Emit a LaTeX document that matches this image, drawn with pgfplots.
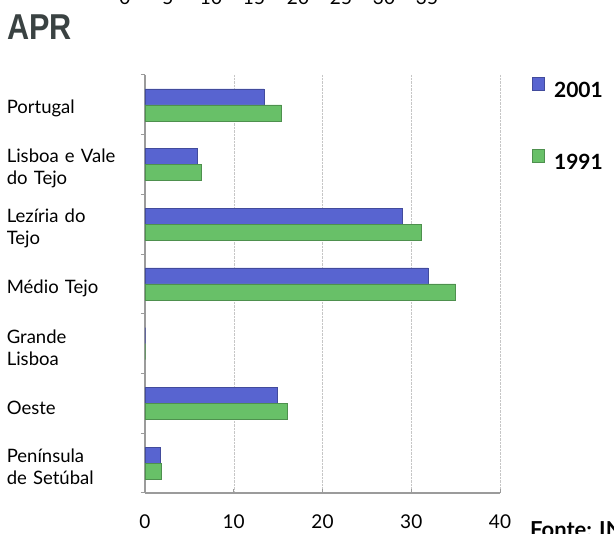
\documentclass[border=0pt]{standalone}
\usepackage{pgfplots}
\pgfplotsset{compat=1.18}
\usepackage{fontspec}
\setmainfont{Lato}
\newfontfamily\titlefont{Liberation Sans}
\definecolor{barblue}{RGB}{88,100,208}
\definecolor{bargreen}{RGB}{104,192,104}
\definecolor{axgray}{RGB}{155,155,155}
\definecolor{titlegray}{RGB}{58,66,66}

\begin{document}
\begin{tikzpicture}[x=1pt,y=1pt]
\useasboundingbox (0,0) rectangle (614,534);
\begin{axis}[
    at={(145pt,41pt)}, anchor=south west,
    scale only axis, width=355pt, height=418pt,
    xmin=0, xmax=40, ymin=-0.5, ymax=6.5, y dir=reverse,
    xbar, bar width=16pt,
    axis x line*=bottom, axis y line*=left,
    axis line style={axgray, line width=1.8pt, -},
    xtick={0,10,20,30,40},
    xmajorgrids, grid style={densely dotted, gray!45},
    major x tick style={axgray, line width=1pt},
    major tick length=4pt,
    ytick={0,...,6},
    yticklabels={Portugal, {Lisboa e Vale\\do Tejo}, {Lezíria do\\Tejo}, Médio Tejo,
                 {Grande\\Lisboa}, Oeste, {Península\\de Setúbal}},
    major y tick style={draw=none},
    minor ytick={-0.5,0.5,...,6.5},
    minor y tick style={axgray, line width=1pt},
    minor tick length=4pt,
    /pgf/number format/assume math mode=true,
    yticklabel style={anchor=east, text width=125pt, align=left, inner sep=0pt,
                      xshift=-9pt, yshift=-4pt, font=\fontsize{18.5}{22}\selectfont},
    xticklabel style={font=\fontsize{19}{19}\selectfont, yshift=-18pt},
    legend style={at={(1.08,1.0)}, anchor=north west, draw=none, fill=none,
                  font=\fontsize{21}{21}\selectfont\bfseries, row sep=48pt,
                  legend cell align=left},
    legend image code/.code={\fill[#1] (0pt,0pt) rectangle (12pt,13pt);},
]
\addplot[fill=barblue, draw=barblue!75!black, line width=0.5pt, bar shift=8pt]
coordinates {(13.4,0) (5.9,1) (29.0,2) (31.9,3) (0,4) (14.9,5) (1.7,6)};
\addplot[fill=bargreen, draw=bargreen!75!black, line width=0.5pt, bar shift=-8pt]
coordinates {(15.4,0) (6.3,1) (31.1,2) (35.0,3) (0,4) (16.0,5) (1.8,6)};
\legend{\hspace{8pt}2001, \hspace{8pt}1991}
\end{axis}
\node[anchor=west, inner sep=0pt, text=titlegray, xscale=0.85,
      font=\titlefont\fontsize{36}{36}\selectfont\bfseries] at (7,507) {APR};
\foreach \x/\t in {125/0,168/5,211/10,254/15,298/20,341/25,384/30,427/35}
  \node[anchor=base, font=\fontsize{19}{19}\selectfont] at (\x,529) {\t};
\node[anchor=north west, inner sep=0pt, font=\fontsize{22}{22}\selectfont\bfseries]
  at (530,13) {Fonte: INE};
\end{tikzpicture}
\end{document}
